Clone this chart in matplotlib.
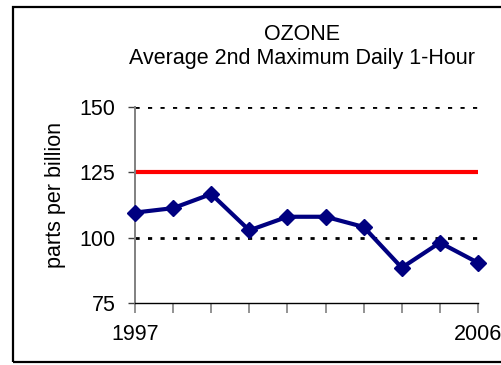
import matplotlib.pyplot as plt
from matplotlib.patches import Rectangle

plt.rcParams['font.family'] = ['Liberation Sans', 'DejaVu Sans']

years = [1997, 1998, 1999, 2000, 2001, 2002, 2003, 2004, 2005, 2006]
ozone = [109.6, 111.3, 116.7, 102.8, 108.0, 108.0, 104.1, 88.5, 98.1, 90.4]
standard = 125
yticks = [75, 100, 125, 150]
xlabels = ['1997', '', '', '', '', '', '', '', '', '2006']

W, H = 502, 365
fs = 15.5
fig = plt.figure(figsize=(W / 100, H / 100), dpi=100)
ax = fig.add_axes([135 / W, 1 - 303 / H, (478 - 135) / W, (303 - 107) / H])

# dotted gridlines at 100/125/150
for v in yticks[1:]:
    ax.axhline(v, color='black', lw=2.0, linestyle=(0, (1.5, 3.0)), zorder=1)
ax.axhline(standard, color='#ff0000', lw=3.0, zorder=2)

ax.plot(years, ozone, color='#000080', lw=3.0, marker='D', markersize=8.5,
        zorder=3, clip_on=False)

ax.set_xlim(years[0], years[-1])
ax.set_ylim(75, 150)
ax.set_yticks(yticks)
ax.set_xticks(years)
ax.set_xticklabels(xlabels)

for s in ['top', 'right']:
    ax.spines[s].set_visible(False)
ax.spines['left'].set_color('#808080')
ax.spines['left'].set_linewidth(1.4)
ax.spines['bottom'].set_color('black')
ax.spines['bottom'].set_linewidth(1.0)

ax.tick_params(axis='y', direction='out', length=5, width=1.0, color='#404040',
               pad=9, labelsize=fs)
ax.tick_params(axis='x', direction='out', length=7, width=1.2, color='#808080',
               pad=8, labelsize=fs)

fig.text(56 / W, 1 - 195 / H, 'parts per billion', rotation=90,
         ha='center', va='center', fontsize=fs)
fig.text(302 / W, 1 - 40 / H, 'OZONE', ha='center', va='baseline', fontsize=fs)
fig.text(302 / W, 1 - 64 / H, 'Average 2nd Maximum Daily 1-Hour',
         ha='center', va='baseline', fontsize=fs)

# chart area border
fig.patches.append(Rectangle((13 / W, 1 - 362 / H), 1, (362 - 7) / H,
                             transform=fig.transFigure, fill=False,
                             edgecolor='black', lw=1.6))

fig.savefig('out.png', dpi=100)
